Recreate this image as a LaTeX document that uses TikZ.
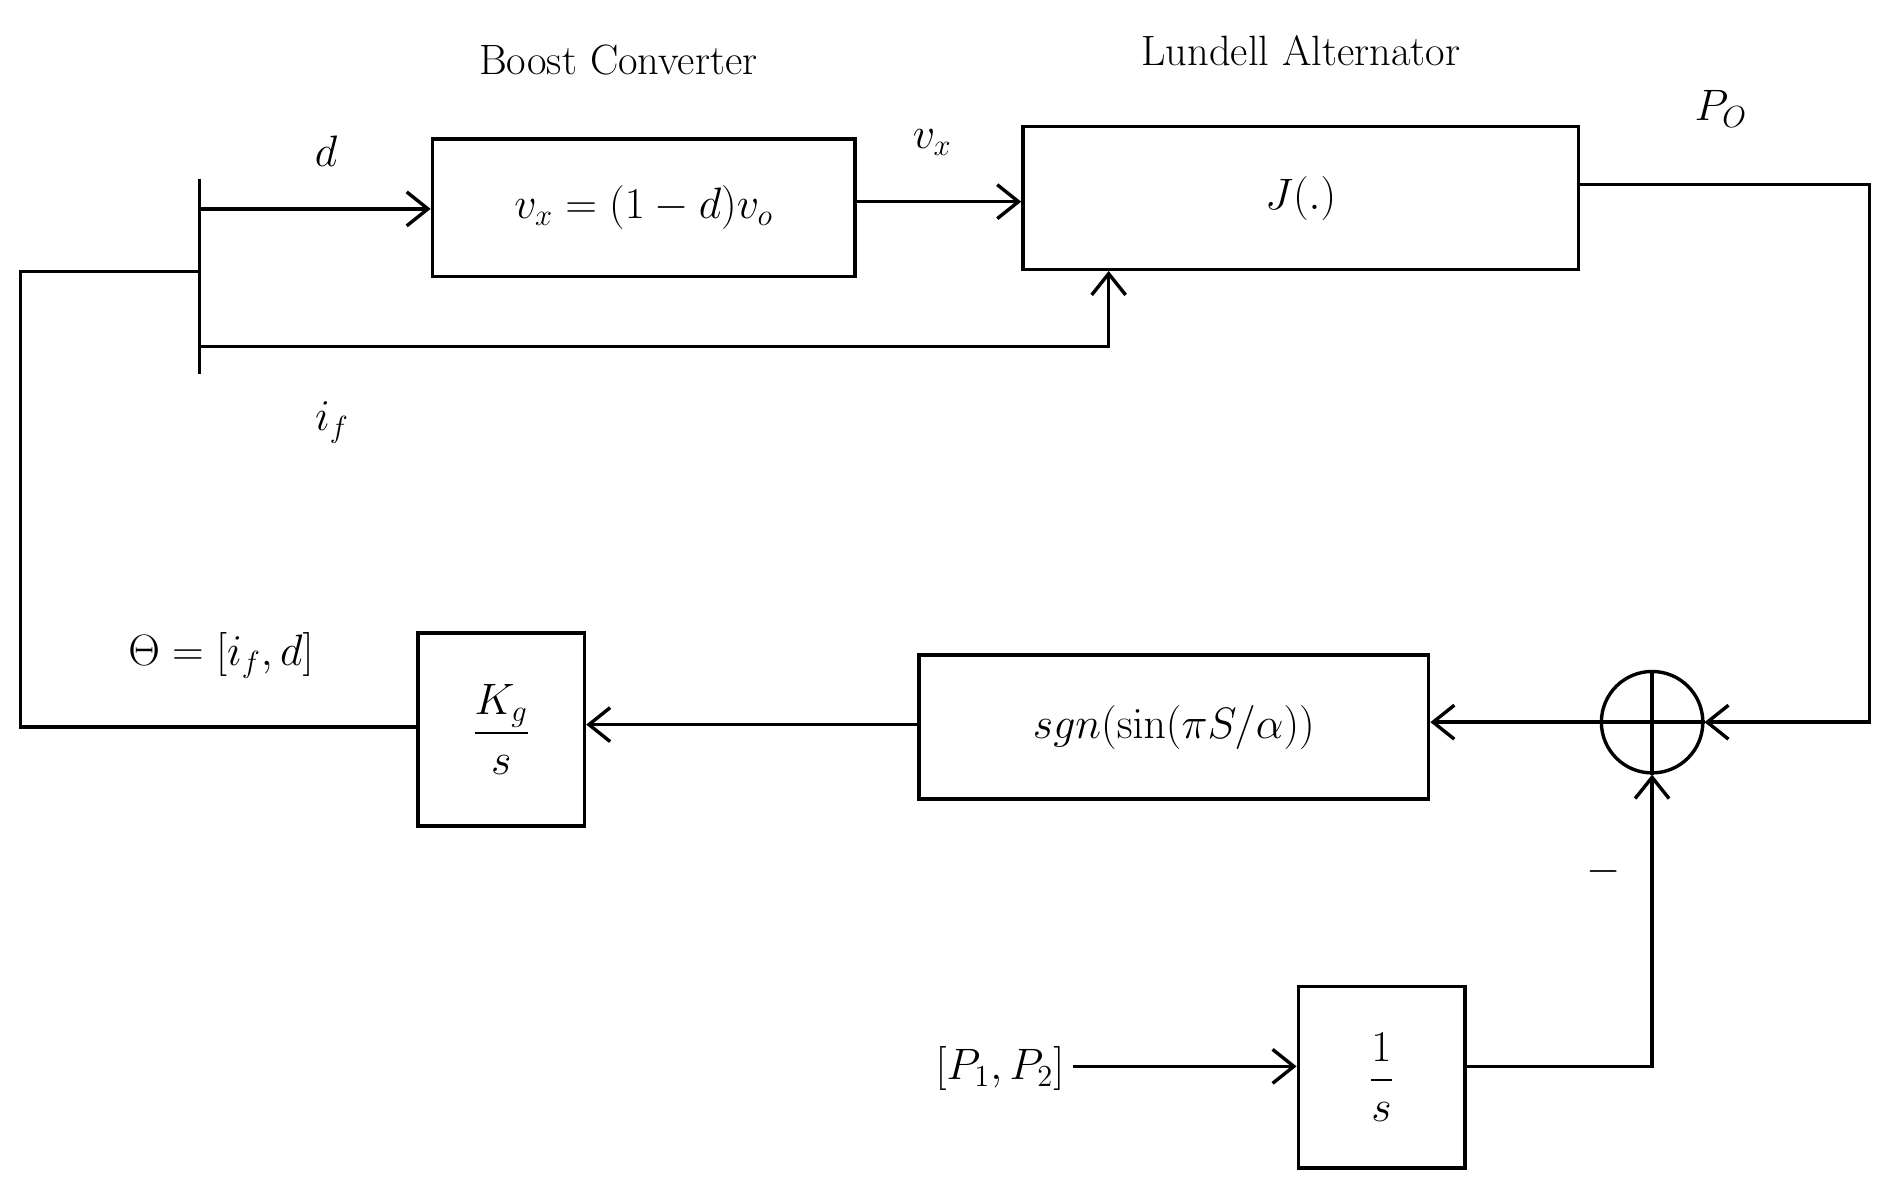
\documentclass[tikz,border=0pt]{standalone}
\usepackage{amsmath}
\usetikzlibrary{arrows.meta}
\begin{document}
\begin{tikzpicture}[x=0.02cm,y=-0.02cm,line width=1.6pt,
  blk/.style={draw,rectangle,inner sep=0pt},
  arr/.style={-{Straight Barb[length=10pt,width=16pt,line width=1.6pt]}},
  lbl/.style={font=\fontsize{20}{24}\selectfont}]
\useasboundingbox (0,0) rectangle (1565,982);
\node[blk,minimum width=350*0.02cm,minimum height=114*0.02cm,lbl] (boost) at (533,172) {$v_x=(1-d)v_o$};
\node[blk,minimum width=460*0.02cm,minimum height=118*0.02cm,lbl] (lund) at (1077,164) {$J(.)$};
\node[lbl] (tb) at (512,50) {Boost Converter};
\node[lbl] (tl) at (1077,42) {Lundell Alternator};
\coordinate (bt) at (165,148); \coordinate (bb) at (165,310);
\draw (bt) -- (bb);
\coordinate (d0) at (165,173);
\draw[arr] (d0) -- (d0 -| boost.west);
\node[lbl] (dl) at (270,125) {$d$};
\draw[arr] (boost.east |- 0,167) coordinate (vx0) -- (lund.west |- vx0);
\node[lbl] (vxl) at (772,118) {$v_x$};
\coordinate (if0) at (165,287); \coordinate (if1) at (918,287);
\draw[arr] (if0) -- (if1) -- (if1 |- lund.south);
\node[lbl] (ifl) at (275,350) {$i_f$};
\node[draw,circle,minimum size=84*0.02cm,inner sep=0pt] (sum) at (1368,598) {};
\draw (sum.north) -- (sum.south) (sum.west) -- (sum.east);
\coordinate (po1) at (1548,153); \coordinate (po2) at (1548,598);
\draw[arr] (lund.east |- po1) -- (po1) -- (po2) -- (sum.east);
\node[lbl] (pol) at (1425,90) {$P_O$};
\node[blk,minimum width=422*0.02cm,minimum height=119*0.02cm,lbl] (sgn) at (972,602) {$sgn(\sin(\pi S/\alpha))$};
\draw[arr] (sum.west) -- (sgn.east |- sum.west);
\node[blk,minimum width=138*0.02cm,minimum height=160*0.02cm,lbl] (kg) at (415,604) {$\dfrac{K_g}{s}$};
\draw[arr] (sgn.west |- 0,600) -- (kg.east |- 0,600);
\coordinate (f1) at (17,602); \coordinate (f2) at (17,225); \coordinate (f3) at (165,225);
\draw (kg.west |- f1) -- (f1) -- (f2) -- (f3);
\node[lbl] (th) at (183,543) {$\Theta=[i_f,d]$};
\node[blk,minimum width=138*0.02cm,minimum height=150*0.02cm,lbl] (is) at (1144,892) {$\dfrac{1}{s}$};
\node[lbl] (p12) at (828,885) {$[P_1,P_2]$};
\draw[arr] (p12.east |- 0,883) -- (is.west |- 0,883);
\coordinate (c1) at (1368,883);
\draw[arr] (is.east |- c1) -- (c1) -- (sum.south);
\node[lbl] (mn) at (1328,722) {$-$};
\end{tikzpicture}
\end{document}
